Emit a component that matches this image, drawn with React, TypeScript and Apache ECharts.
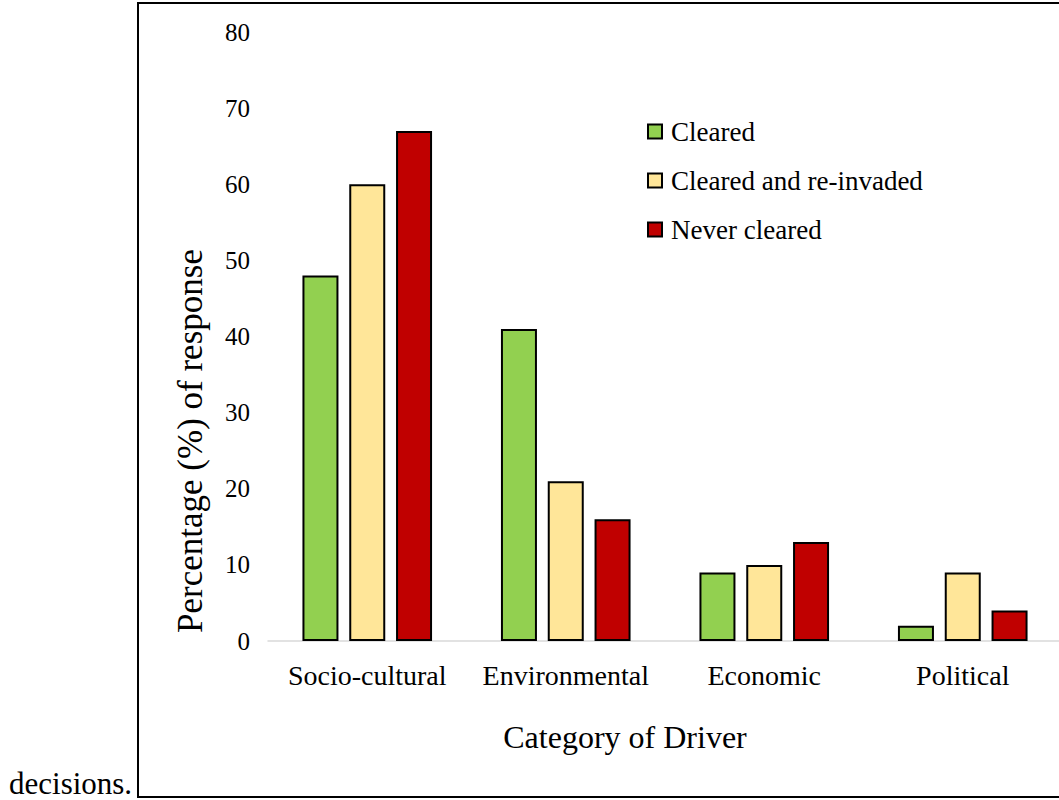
import React, { useEffect, useRef } from "react";
import * as echarts from "echarts";

const categories = ["Socio-cultural", "Environmental", "Economic", "Political"];
const seriesNames = ["Cleared", "Cleared and re-invaded", "Never cleared"];
const cleared = [48, 41, 9, 2];
const clearedReinvaded = [60, 21, 10, 9];
const neverCleared = [67, 16, 13, 4];
const colors = ["#92d050", "#ffe699", "#c00000"];
const yTitle = "Percentage (%) of response";
const xTitle = "Category of Driver";
const sideText = "decisions.";

const FONT = "'Liberation Serif', 'Times New Roman', serif";

export default function App() {
  const ref = useRef<HTMLDivElement>(null);
  useEffect(() => {
    const chart = echarts.init(ref.current!, null, { renderer: "svg" });
    const values = [cleared, clearedReinvaded, neverCleared];
    chart.setOption({
      animation: false,
      backgroundColor: "#ffffff",
      grid: { left: 268, right: 18, top: 32, bottom: 159, containLabel: false },
      legend: {
        orient: "vertical",
        left: 647,
        top: 118,
        padding: 0,
        itemWidth: 14,
        itemHeight: 14,
        itemGap: 22,
        icon: "rect",
        data: seriesNames,
        textStyle: { fontFamily: FONT, fontSize: 27, color: "#000", lineHeight: 26, padding: [0, 0, 0, 4] },
      },
      xAxis: {
        type: "category",
        data: categories,
        axisTick: { show: false },
        axisLine: { lineStyle: { color: "#d9d9d9", width: 1.5 } },
        axisLabel: { interval: 0, fontFamily: FONT, fontSize: 28, color: "#000", margin: 20 },
      },
      yAxis: {
        type: "value",
        min: 0,
        max: 80,
        interval: 10,
        splitLine: { show: false },
        axisLine: { show: false },
        axisTick: { show: false },
        axisLabel: { fontFamily: FONT, fontSize: 25, color: "#000", margin: 18 },
      },
      series: seriesNames.map((name, i) => ({
        name,
        type: "bar",
        data: values[i],
        barWidth: 36,
        barGap: "30%",
        itemStyle: { color: colors[i], borderColor: "#000", borderWidth: 2 },
      })),
      graphic: [
        {
          type: "rect",
          shape: { x: 138, y: 3, width: 1000, height: 794 },
          style: { fill: "none", stroke: "#000", lineWidth: 2 },
          silent: true,
        },
        {
          type: "text",
          x: 190,
          y: 441,
          rotation: Math.PI / 2,
          style: {
            text: yTitle,
            fontFamily: FONT,
            fontSize: 35,
            fill: "#000",
            align: "center",
            verticalAlign: "middle",
          },
        },
        {
          type: "text",
          x: 625,
          y: 737,
          style: {
            text: xTitle,
            fontFamily: FONT,
            fontSize: 32,
            fill: "#000",
            align: "center",
            verticalAlign: "middle",
          },
        },
        {
          type: "text",
          x: 9,
          y: 783,
          style: {
            text: sideText,
            fontFamily: FONT,
            fontSize: 31,
            fill: "#000",
            align: "left",
            verticalAlign: "middle",
          },
        },
      ],
    });
    return () => chart.dispose();
  }, []);
  return (
    <div style={{ position: "fixed", left: 0, top: 0, width: 1059, height: 800, overflow: "hidden", background: "#fff" }}>
      <div ref={ref} style={{ width: 1080, height: 800 }} />
    </div>
  );
}
